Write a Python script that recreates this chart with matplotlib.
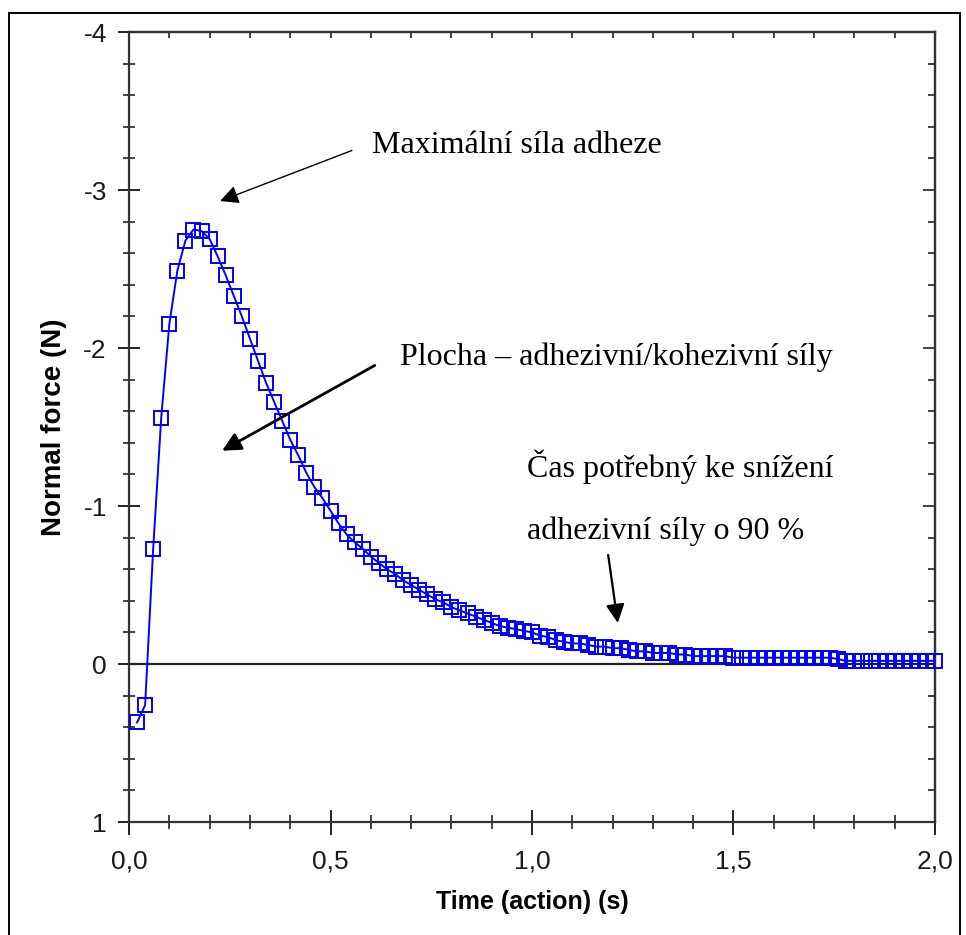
import matplotlib
matplotlib.use("Agg")
import matplotlib.pyplot as plt
from matplotlib.ticker import MultipleLocator, FuncFormatter
from matplotlib.lines import Line2D

plt.rcParams['axes.unicode_minus'] = False

# Time of each sample (s) and measured normal force (N)
time_s = [round(0.02 * k, 2) for k in range(1, 101)]
force_n = [
    0.37, 0.26, -0.73, -1.56, -2.15, -2.49, -2.68, -2.75, -2.74, -2.69,
    -2.58, -2.46, -2.33, -2.20, -2.06, -1.92, -1.78, -1.66, -1.54, -1.42,
    -1.32, -1.21, -1.12, -1.05, -0.97, -0.89, -0.82, -0.77, -0.73, -0.68,
    -0.64, -0.60, -0.57, -0.53, -0.50, -0.47, -0.44, -0.41, -0.39, -0.36,
    -0.34, -0.32, -0.30, -0.28, -0.26, -0.24, -0.23, -0.22, -0.21, -0.20,
    -0.18, -0.17, -0.15, -0.14, -0.13, -0.13, -0.12, -0.11, -0.11, -0.10,
    -0.10, -0.09, -0.08, -0.08, -0.07, -0.07, -0.07, -0.06, -0.06, -0.05,
    -0.05, -0.05, -0.05, -0.05, -0.04, -0.04, -0.04, -0.04, -0.04, -0.04,
    -0.04, -0.04, -0.04, -0.04, -0.04, -0.04, -0.04, -0.03, -0.02, -0.02,
    -0.02, -0.02, -0.02, -0.02, -0.02, -0.02, -0.02, -0.02, -0.02, -0.02,
]

# (text, text position, arrow tail, arrow head, line width)
notes = [
    ("Maximální síla adheze", (0.603, -3.28), (0.553, -3.25), (0.226, -2.93), 1.0),
    ("Plocha – adhezivní/kohezivní síly", (0.672, -1.94), (0.610, -1.89), (0.231, -1.35), 2.0),
]
time_note = ["Čas potřebný ke snížení", "adhezivní síly o 90 %"]

fig = plt.figure(figsize=(9.66, 9.35), dpi=100)
ax = fig.add_axes([129 / 966, 1 - 822 / 935, (935 - 129) / 966, (822 - 32) / 935])

ax.axhline(0, color='#222222', lw=1.6, zorder=1)
ax.plot(time_s, force_n, '-s', color='#0000ff', lw=1.4, ms=9.5,
        mfc='none', mec='#0000ff', mew=1.4, zorder=3, clip_on=False)

ax.set_xlim(0, 2.0)
ax.set_ylim(1, -4)

ax.xaxis.set_major_locator(MultipleLocator(0.5))
ax.xaxis.set_minor_locator(MultipleLocator(0.1))
ax.yaxis.set_major_locator(MultipleLocator(1))
ax.yaxis.set_minor_locator(MultipleLocator(0.2))
ax.xaxis.set_major_formatter(FuncFormatter(lambda v, p: f"{v:.1f}".replace('.', ',')))
ax.yaxis.set_major_formatter(FuncFormatter(lambda v, p: f"{int(round(v))}"))

for s in ax.spines.values():
    s.set_color('#333333')
    s.set_linewidth(1.6)

ax.tick_params(axis='x', which='major', direction='inout', length=18, width=1.4,
               color='#222222', labelsize=19, pad=11, labelcolor='#1a1a1a')
ax.tick_params(axis='x', which='minor', direction='inout', length=10, width=1.2, color='#222222')
ax.tick_params(axis='y', which='major', direction='inout', length=16, width=1.4,
               color='#222222', labelsize=19, pad=8, labelcolor='#1a1a1a')
ax.tick_params(axis='y', which='minor', direction='inout', length=8, width=1.2, color='#222222')
for lab in ax.get_xticklabels() + ax.get_yticklabels():
    lab.set_family('Liberation Sans')

# short inward ticks on the top and right frame
top = ax.secondary_xaxis('top')
top.xaxis.set_major_locator(MultipleLocator(0.5))
top.xaxis.set_minor_locator(MultipleLocator(0.1))
top.tick_params(which='both', direction='in', length=4, width=1.2, labeltop=False, color='#222222')
right = ax.secondary_yaxis('right')
right.yaxis.set_major_locator(MultipleLocator(1))
right.yaxis.set_minor_locator(MultipleLocator(0.2))
right.tick_params(which='major', direction='in', length=9, width=1.2, labelright=False, color='#222222')
right.tick_params(which='minor', direction='in', length=5, width=1.2, labelright=False, color='#222222')
for sec in (top, right):
    for s in sec.spines.values():
        s.set_color('#333333')
        s.set_linewidth(1.6)

ax.set_xlabel('Time (action) (s)', fontsize=18, fontweight='bold',
              family='Liberation Sans', labelpad=12)
ax.set_ylabel('Normal force (N)', fontsize=20, fontweight='bold',
              family='Liberation Sans', labelpad=12)

for text, pos, tail, head, lw in notes:
    ax.text(pos[0], pos[1], text, fontsize=23, family='Liberation Serif', va='center', ha='left')
    ax.annotate('', xy=head, xytext=tail,
                arrowprops=dict(arrowstyle='-|>', mutation_scale=28, lw=lw, color='black',
                                shrinkA=0, shrinkB=0))

ax.text(0.988, -1.25, time_note[0], fontsize=23, family='Liberation Serif', va='center', ha='left')
ax.text(0.988, -0.84, time_note[1], fontsize=23, family='Liberation Serif', va='center', ha='left')
ax.annotate('', xy=(1.213, -0.26), xytext=(1.189, -0.69),
            arrowprops=dict(arrowstyle='-|>', mutation_scale=28, lw=1.6, color='black',
                            shrinkA=0, shrinkB=0))

# outer frame
fx0, fx1, fy1 = 9 / 966, 960 / 966, 1 - 13 / 935
for xs, ys in (([fx0, fx0], [0, fy1]), ([fx1, fx1], [fy1, 0]), ([fx0, fx1], [fy1, fy1])):
    fig.add_artist(Line2D(xs, ys, color='black', lw=1.4, transform=fig.transFigure))

fig.savefig('out.png', dpi=100)
